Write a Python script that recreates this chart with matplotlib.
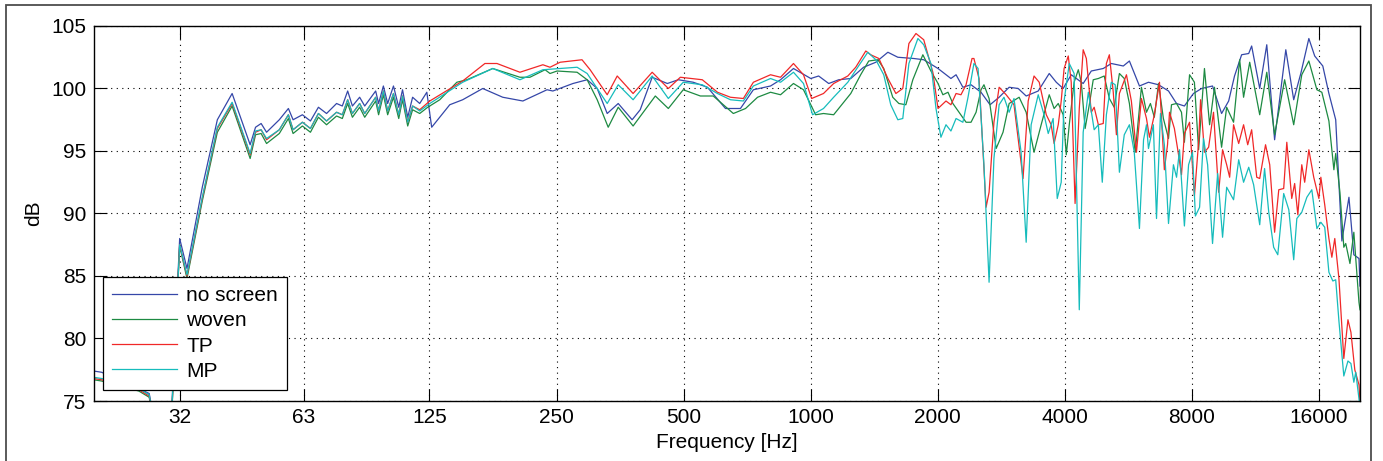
import matplotlib
matplotlib.use("Agg")
import matplotlib.pyplot as plt
from matplotlib.patches import Rectangle
from matplotlib.ticker import NullLocator

plt.rcParams['font.family'] = ['Liberation Sans', 'DejaVu Sans']

# 20-120 Hz: all four measurements share these frequency points
f_low = [20, 20.9, 25.6, 27.1, 28.0, 29.6, 30.7, 32, 33.3, 36.2, 39.3, 42.6, 47.0, 48.4,
         49.9, 51.4, 55.1, 57.9, 59.4, 62.5, 65.3, 68.2, 71.3, 75.3, 77.7, 80.0, 82.1,
         85.4, 87.8, 93.2, 94.7, 97.2, 99.5, 102.7, 105.7, 107.9, 111.0, 114.0, 118.5]
no_screen_low = [77.4, 77.3, 76.0, 75.6, 73.0, 71.0, 75.0, 88.0, 85.6, 92.1, 97.5, 99.6, 95.5,
                 96.9, 97.2, 96.5, 97.5, 98.4, 97.5, 97.9, 97.4, 98.5, 98.0, 98.8, 98.6, 99.8,
                 98.6, 99.3, 98.6, 99.8, 98.8, 100.2, 98.8, 100.2, 98.5, 99.9, 97.7, 99.3, 98.8]
woven_low = [76.7, 76.6, 75.8, 75.3, 72.5, 70.5, 74.5, 87.4, 84.8, 91.0, 96.5, 98.6, 94.4,
             96.3, 96.4, 95.6, 96.4, 97.6, 96.4, 97.0, 96.5, 97.7, 97.1, 97.8, 97.6, 98.8,
             97.7, 98.5, 97.7, 99.0, 97.9, 99.5, 97.9, 99.3, 97.6, 99.1, 97.0, 98.3, 98.0]
tp_low = [76.8, 76.7, 75.9, 75.4, 72.6, 70.6, 74.6, 87.5, 85.0, 91.2, 96.8, 98.8, 94.7,
          96.5, 96.7, 95.9, 96.7, 97.9, 96.7, 97.3, 96.8, 98.0, 97.4, 98.1, 97.9, 99.1,
          98.0, 98.8, 98.0, 99.3, 98.2, 99.8, 98.2, 99.6, 97.9, 99.4, 97.3, 98.6, 98.3]
mp_low = [76.9, 76.8, 76.0, 75.5, 72.7, 70.7, 74.7, 87.5, 85.1, 91.3, 96.9, 98.9, 94.8,
          96.6, 96.7, 96.0, 96.7, 97.9, 96.7, 97.3, 96.8, 98.0, 97.4, 98.1, 97.9, 99.1,
          98.0, 98.8, 98.0, 99.3, 98.2, 99.8, 98.2, 99.6, 97.9, 99.4, 97.3, 98.6, 98.2]

# above 120 Hz each curve keeps its own frequency points
f_no_screen = [123.2, 126.5, 139.6, 149.8, 167.1, 186.4, 208.0, 237.3, 245.0, 273.4, 295.4,
               312.0, 329.5, 349.9, 377.5, 394.5, 421.1, 457.4, 485.7, 526.8, 569.2, 628.1,
               681.5, 731.3, 803.0, 848.1, 910.1, 1000, 1044, 1103, 1165, 1244, 1334, 1426,
               1523, 1608, 1754, 1852, 2002, 2148, 2209, 2293, 2397, 2531, 2659, 2794, 2951,
               3100, 3238, 3458, 3672, 3816, 3962, 4140, 4419, 4619, 4930, 5152, 5500, 5686,
               6006, 6309, 6664, 7038, 7353, 7675, 8064, 8427, 8948, 9401, 9771, 10088,
               10487, 10900, 11076, 11574, 12028, 12553, 13344, 13931, 14481, 15131, 15622,
               16327, 16880, 17518, 18117, 18830, 19339, 19888, 20000]
no_screen_db = [99.7, 96.9, 98.7, 99.1, 100.0, 99.3, 99.0, 99.9, 99.8, 100.4, 100.7, 100.0,
                98.0, 98.8, 97.5, 98.3, 100.9, 100.4, 100.7, 100.5, 100.1, 98.4, 98.4, 99.9,
                100.2, 100.7, 101.6, 100.8, 101.0, 100.4, 100.7, 100.8, 101.7, 102.1, 102.9,
                102.5, 102.4, 102.3, 101.6, 100.8, 101.1, 100.1, 100.3, 99.7, 98.7, 99.3,
                100.1, 100.0, 99.4, 99.8, 101.2, 100.5, 100.0, 101.1, 100.4, 101.4, 101.6,
                102.0, 101.8, 102.2, 100.2, 100.5, 100.3, 99.8, 98.8, 98.6, 99.6, 100.0,
                100.2, 98.0, 99.0, 101.0, 102.7, 102.8, 103.4, 100.0, 103.5, 95.9, 103.1,
                99.1, 101.2, 104.0, 102.6, 101.8, 99.6, 97.5, 87.8, 91.3, 86.7, 86.4, 84.2]

f_woven = [123.8, 132.2, 145.1, 153.3, 176.5, 204.7, 216.2, 234.8, 241.2, 250.7, 279.6, 295.4,
           312.0, 331.3, 349.9, 379.5, 428.4, 459.9, 498.8, 547.7, 587.7, 655.6, 700.7, 748.2,
           803.0, 848.1, 910.1, 961.2, 1010, 1027, 1072, 1133, 1190, 1244, 1313, 1372, 1442,
           1489, 1564, 1617, 1680, 1745, 1843, 1926, 2002, 2056, 2114, 2171, 2245, 2333,
           2397, 2464, 2531, 2572, 2645, 2749, 2854, 2951, 3116, 3238, 3380, 3514, 3672,
           3771, 3857, 3962, 4030, 4096, 4206, 4303, 4373, 4466, 4569, 4668, 4800, 4956,
           5097, 5234, 5384, 5529, 5686, 5870, 6071, 6241, 6377, 6514, 6664, 6844, 7038,
           7153, 7353, 7554, 7675, 7894, 8106, 8293, 8562, 8806, 9043, 9401, 9665, 10035,
           10375, 10599, 10959, 11574, 12028, 12553, 13259, 13931, 14558, 15131, 15809,
           16241, 16880, 17345, 17518, 17924, 18310, 18503, 18932, 19339, 19888, 20000]
woven_db = [98.5, 99.1, 100.5, 100.7, 101.6, 100.9, 100.9, 101.5, 101.2, 101.4, 101.3, 100.7,
            99.1, 96.9, 98.5, 97.0, 99.4, 98.4, 99.9, 99.4, 99.4, 98.0, 98.4, 99.3, 99.7,
            99.5, 100.4, 99.9, 98.4, 97.9, 98.0, 97.9, 98.8, 99.6, 101.1, 102.2, 102.3,
            101.6, 99.3, 98.8, 98.7, 100.7, 102.7, 101.4, 100.4, 99.5, 99.7, 98.8, 98.1,
            97.3, 97.3, 98.1, 99.9, 100.3, 99.2, 95.2, 96.5, 98.8, 99.3, 98.1, 94.9, 97.1,
            99.5, 98.4, 98.8, 97.9, 94.7, 97.1, 100.5, 101.5, 100.5, 96.8, 98.7, 100.7,
            100.8, 101.0, 99.2, 98.5, 101.2, 100.8, 98.8, 94.9, 100.1, 98.1, 98.8, 97.7,
            100.4, 97.6, 96.0, 98.7, 98.8, 98.1, 95.7, 101.1, 100.5, 95.1, 101.6, 97.1,
            100.1, 95.3, 98.5, 97.3, 102.3, 99.3, 102.1, 97.9, 101.3, 96.3, 100.7, 97.1,
            101.1, 102.2, 99.9, 99.7, 97.4, 93.5, 94.8, 91.7, 87.3, 87.6, 86.0, 88.5, 82.9,
            82.3]

f_tp = [125.2, 149.8, 169.1, 180.6, 204.7, 232.0, 241.2, 254.8, 287.2, 300.2, 329.5, 348.0,
        379.5, 421.1, 459.9, 491.0, 553.5, 601.2, 645.3, 692.4, 731.3, 803.0, 848.1, 910.1,
        961.2, 1005, 1072, 1133, 1224, 1278, 1350, 1387, 1450, 1523, 1591, 1652, 1708, 1775,
        1852, 1946, 2002, 2091, 2148, 2209, 2269, 2333, 2410, 2435, 2504, 2602, 2645, 2716,
        2794, 2903, 3030, 3183, 3274, 3380, 3477, 3613, 3711, 3771, 3857, 3920, 3982, 4074,
        4140, 4228, 4326, 4419, 4496, 4619, 4692, 4800, 4930, 5015, 5097, 5207, 5297, 5384,
        5595, 5747, 5909, 6071, 6241, 6343, 6514, 6700, 6880, 7000, 7076, 7267, 7434, 7554,
        7675, 7894, 8106, 8293, 8383, 8562, 8759, 8996, 9251, 9451, 9665, 9824, 10035,
        10320, 10599, 10841, 11076, 11388, 11574, 11948, 12224, 12553, 12842, 13191, 13417,
        13784, 14004, 14249, 14558, 14791, 15131, 15540, 15982, 16154, 16500, 16880, 17153,
        17430, 17828, 18310, 18728, 19034, 19440, 19888, 20000]
tp_db = [99.0, 100.6, 102.0, 102.0, 101.3, 101.9, 101.7, 102.1, 102.3, 101.5, 99.5, 101.0,
         99.6, 101.3, 100.0, 100.9, 100.7, 99.7, 99.3, 99.2, 100.5, 101.1, 100.9, 102.0,
         101.1, 99.2, 99.6, 100.4, 101.0, 101.7, 103.0, 102.7, 102.4, 100.8, 99.6, 100.0,
         103.6, 104.4, 103.9, 101.3, 98.4, 99.0, 98.7, 99.6, 99.5, 100.3, 102.4, 102.4,
         100.8, 90.5, 91.7, 97.3, 100.1, 99.5, 98.7, 92.8, 99.0, 101.0, 100.5, 97.9, 97.1,
         95.6, 97.1, 99.0, 101.6, 102.6, 100.5, 90.8, 98.4, 103.1, 102.4, 98.1, 98.5, 97.1,
         97.2, 102.0, 102.7, 99.7, 96.3, 99.6, 101.1, 99.0, 94.9, 99.2, 97.6, 96.1, 97.9,
         100.5, 93.5, 95.5, 98.1, 96.8, 94.7, 93.1, 96.4, 97.3, 91.4, 95.7, 99.1, 94.9,
         95.3, 98.1, 91.7, 95.1, 93.9, 92.9, 97.1, 95.6, 97.1, 95.5, 96.7, 92.9, 92.8, 95.5,
         93.9, 88.5, 91.9, 92.0, 95.7, 91.2, 92.4, 89.9, 93.9, 92.5, 95.1, 92.9, 91.2, 92.9,
         90.7, 88.0, 86.5, 88.0, 84.8, 78.4, 81.5, 80.5, 77.5, 76.3, 74.8]

f_mp = [125.2, 149.8, 176.5, 204.7, 232.0, 254.8, 279.6, 295.4, 329.5, 349.9, 379.5, 421.1,
        459.9, 498.8, 553.5, 601.2, 645.3, 692.4, 731.3, 803.0, 848.1, 910.1, 961.2, 1010,
        1072, 1133, 1224, 1292, 1365, 1426, 1489, 1547, 1608, 1652, 1708, 1794, 1852, 1926,
        1980, 2034, 2091, 2148, 2209, 2293, 2358, 2435, 2491, 2572, 2645, 2716, 2794, 2869,
        2951, 3030, 3150, 3238, 3327, 3458, 3570, 3652, 3751, 3836, 3920, 3982, 4096, 4206,
        4326, 4419, 4545, 4692, 4800, 4904, 5015, 5152, 5262, 5384, 5529, 5686, 5839, 6006,
        6142, 6241, 6309, 6480, 6592, 6736, 6880, 7038, 7229, 7353, 7474, 7675, 7852, 8021,
        8149, 8338, 8517, 8711, 8948, 9201, 9451, 9665, 10035, 10320, 10599, 10900, 11196,
        11574, 11885, 12159, 12488, 12773, 13191, 13564, 13931, 14171, 14558, 14968, 15377,
        15809, 16154, 16500, 16880, 17245, 17518, 17828, 18310, 18728, 19034, 19339, 19542,
        19888, 20000]
mp_db = [98.8, 100.5, 101.6, 100.7, 101.5, 101.6, 101.7, 101.2, 98.8, 100.3, 99.1, 101.0,
         99.2, 100.5, 100.3, 99.6, 99.1, 99.0, 100.2, 100.8, 100.5, 101.3, 100.4, 97.9,
         98.4, 99.3, 100.5, 101.7, 102.9, 102.3, 101.1, 98.7, 97.5, 97.6, 102.0, 104.0,
         103.5, 102.0, 98.4, 96.1, 97.1, 96.6, 97.6, 97.3, 99.3, 102.0, 101.6, 93.9, 84.5,
         94.4, 98.7, 99.3, 98.1, 99.2, 94.9, 87.7, 97.1, 99.5, 97.9, 96.4, 97.6, 91.2, 92.5,
         99.0, 102.0, 101.2, 82.3, 96.5, 99.7, 96.7, 97.1, 92.5, 97.9, 100.5, 100.3, 93.3,
         96.3, 97.1, 94.9, 88.8, 95.9, 97.1, 95.2, 97.1, 89.6, 98.0, 95.5, 89.2, 93.9, 92.9,
         95.1, 89.0, 93.9, 94.9, 89.8, 90.5, 96.0, 93.9, 87.6, 93.2, 88.1, 92.1, 91.1, 94.3,
         92.5, 93.7, 92.3, 89.1, 93.6, 90.1, 87.3, 86.7, 91.6, 90.3, 86.3, 89.6, 90.1, 91.3,
         91.9, 88.8, 89.3, 88.9, 85.3, 84.6, 84.7, 81.4, 77.0, 78.2, 78.0, 76.5, 77.3, 75.2,
         74.5]

labels = ["no screen", "woven", "TP", "MP"]
colors = ["#3547a8", "#1d8a42", "#f02828", "#16bcbc"]
x_ticks = [32, 63, 125, 250, 500, 1000, 2000, 4000, 8000, 16000]
y_ticks = [75, 80, 85, 90, 95, 100, 105]

curves = [
    (f_low + f_no_screen, no_screen_low + no_screen_db),
    (f_low + f_woven, woven_low + woven_db),
    (f_low + f_tp, tp_low + tp_db),
    (f_low + f_mp, mp_low + mp_db),
]

FS = 15
W, H = 1383, 461
fig = plt.figure(figsize=(W / 100, H / 100), dpi=100)
ax = fig.add_axes([93.5 / W, 60 / H, (1360 - 93.5) / W, 375 / H])

for (f, db), lab, col in zip(curves, labels, colors):
    ax.plot(f, db, color=col, lw=0.9, label=lab)

ax.set_xscale('log')
ax.set_xlim(20, 20000)
ax.set_ylim(75, 105)
ax.set_xticks(x_ticks)
ax.set_xticklabels([str(t) for t in x_ticks])
ax.xaxis.set_minor_locator(NullLocator())
ax.set_yticks(y_ticks)
ax.tick_params(direction='in', length=9, width=0.8, top=True, right=True,
               labelsize=FS, pad=5)
ax.grid(True, color='k', linestyle=(0, (1, 4)), lw=0.8)
for sp in ax.spines.values():
    sp.set_linewidth(1.0)

ax.set_xlabel("Frequency [Hz]", fontsize=FS, labelpad=4)
ax.set_ylabel("dB", fontsize=FS, labelpad=6)

leg = ax.legend(loc='lower left', bbox_to_anchor=(0.0075, 0.029), fontsize=FS,
                frameon=True, fancybox=False, edgecolor='k', framealpha=1,
                handlelength=3.1, labelspacing=0.3, borderpad=0.45,
                handletextpad=0.45, borderaxespad=0)
leg.get_frame().set_linewidth(0.9)

# thin frame around the whole figure, open at the bottom
fig.add_artist(Rectangle((6 / W, -0.1), (1371 - 6) / W, 0.1 + 1 - 5 / H,
                         transform=fig.transFigure, fill=False, ec='0.3', lw=1.3))

fig.savefig("out.png", dpi=100)
